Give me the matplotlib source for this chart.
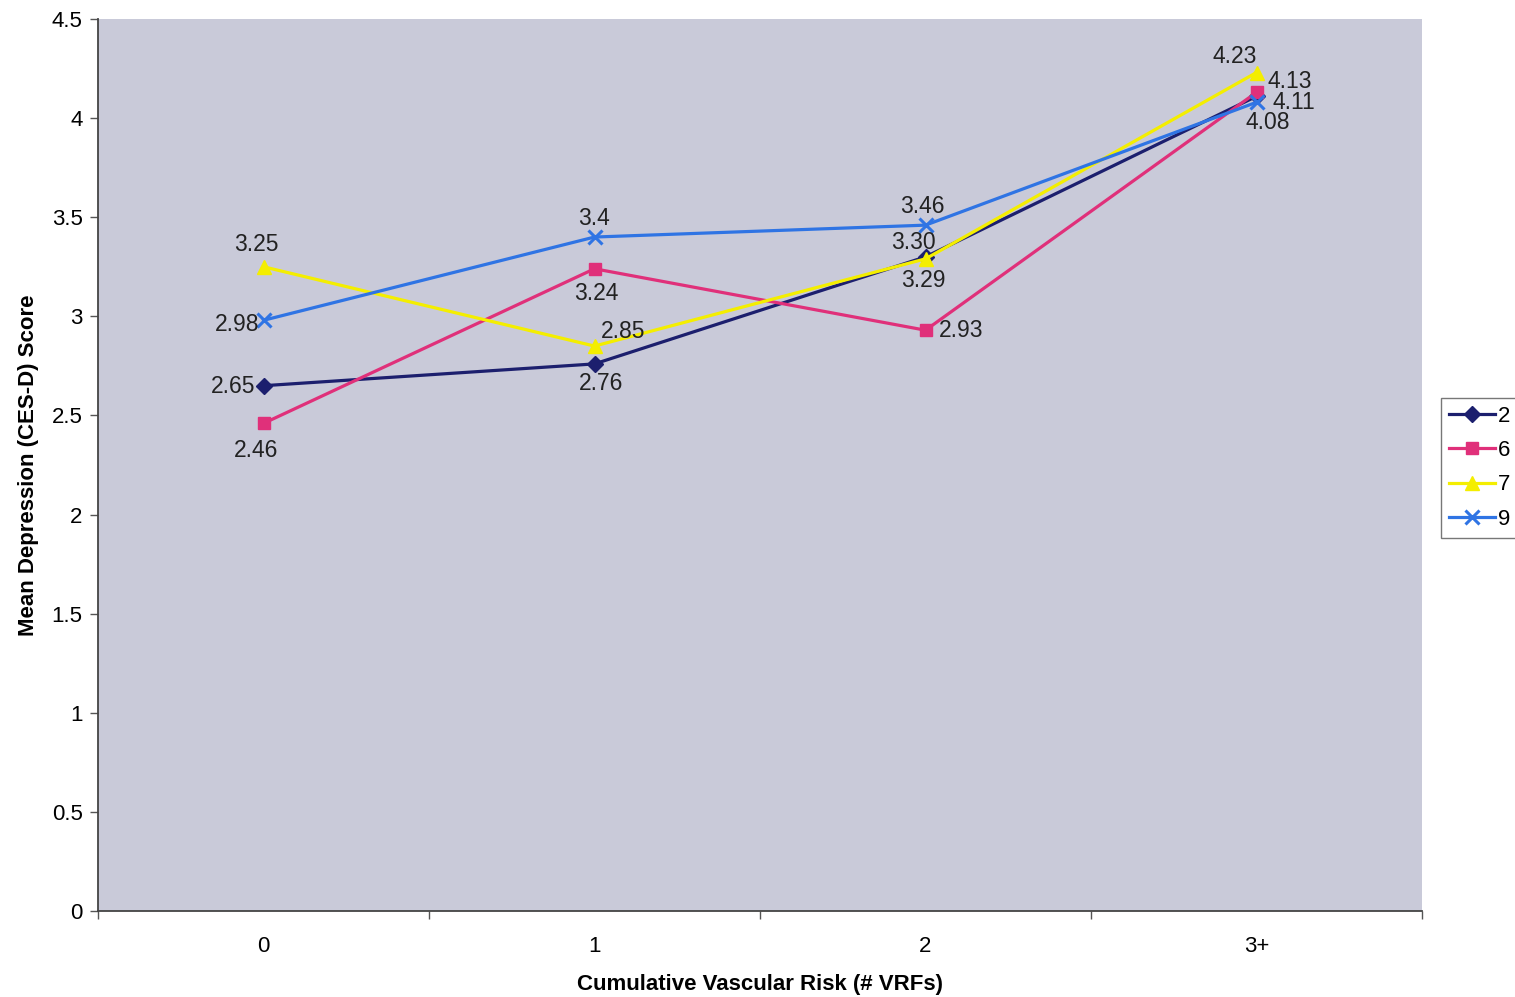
import numpy as np
import matplotlib
matplotlib.use("Agg")
import matplotlib.pyplot as plt

plt.rcParams['font.family'] = ['Liberation Sans', 'DejaVu Sans']

categories = ['0', '1', '2', '3+']
series_names = ['2', '6', '7', '9']
vals_2 = [2.65, 2.76, 3.30, 4.11]
vals_6 = [2.46, 3.24, 2.93, 4.13]
vals_7 = [3.25, 2.85, 3.29, 4.23]
vals_9 = [2.98, 3.40, 3.46, 4.08]
labels_2 = ['2.65', '2.76', '3.30', '4.11']
labels_6 = ['2.46', '3.24', '2.93', '4.13']
labels_7 = ['3.25', '2.85', '3.29', '4.23']
labels_9 = ['2.98', '3.4', '3.46', '4.08']
yticks = [0, 0.5, 1, 1.5, 2, 2.5, 3, 3.5, 4, 4.5]
ytick_labels = ['0', '0.5', '1', '1.5', '2', '2.5', '3', '3.5', '4', '4.5']

fig = plt.figure(figsize=(15.15, 9.97), dpi=100)
ax = fig.add_axes([98/1515, 1-911/997, (1422-98)/1515, (911-19)/997])
ax.set_facecolor('#c9cad9')

x = np.arange(len(categories))

styles = [
    (vals_2, labels_2, '#1c1f6e', 'D', 8),
    (vals_6, labels_6, '#e0307a', 's', 9),
    (vals_7, labels_7, '#f4ee00', '^', 10),
    (vals_9, labels_9, '#2f74e4', 'x', 10),
]

for i, (vals, labs, col, mk, ms) in enumerate(styles):
    ax.plot(x, vals, color=col, lw=2.3, marker=mk, markersize=ms,
            markeredgewidth=2.2 if mk == 'x' else 1, label=series_names[i])

# label offsets in pixels, per series (rows) and category (cols)
off = [
    [(-30, -1), (7, -20), (-12, 14), (37, -6)],      # series 2
    [(-7, -27), (2, -25), (36, 0), (33, 11)],        # series 6
    [(-7, 22), (29, 15), (-2, -22), (-22, 16)],      # series 7
    [(-26, -4), (-1, 19), (-3, 19), (11, -20)],      # series 9
]

for i, (vals, labs, col, mk, ms) in enumerate(styles):
    for j in range(len(categories)):
        dx, dy = off[i][j]
        ax.annotate(labs[j], (x[j], vals[j]), xytext=(dx, dy),
                    textcoords='offset pixels', ha='center', va='center',
                    fontsize=16.5, color='#222222')

ax.set_xlim(-0.5, 3.5)
ax.set_ylim(0, 4.5)
ax.set_yticks(yticks)
ax.set_yticklabels(ytick_labels)
ax.set_xticks(x)
ax.set_xticklabels(categories)
ax.set_xticks(np.arange(-0.5, 4, 1), minor=True)
ax.tick_params(axis='x', which='major', length=0, pad=18, labelsize=16)
ax.tick_params(axis='x', which='minor', length=6, width=1, color='#555555')
ax.tick_params(axis='y', length=6, width=1, color='#555555', labelsize=16, pad=5)

for s in ['top', 'right']:
    ax.spines[s].set_visible(False)
for s in ['left', 'bottom']:
    ax.spines[s].set_color('#444444')
    ax.spines[s].set_linewidth(1.3)

ax.set_xlabel('Cumulative Vascular Risk (# VRFs)', fontsize=16, fontweight='bold', labelpad=12)
ax.set_ylabel('Mean Depression (CES-D) Score', fontsize=16, fontweight='bold', labelpad=9)

leg = fig.legend(loc='upper left', bbox_to_anchor=(1441/1515, 1-398/997),
                 borderaxespad=0, frameon=True, fancybox=False, edgecolor='#555555',
                 fontsize=16, handlelength=2.1, handletextpad=0.12,
                 labelspacing=0.6, borderpad=0.35)
leg.get_frame().set_linewidth(1)

fig.savefig('out.png', dpi=100)
